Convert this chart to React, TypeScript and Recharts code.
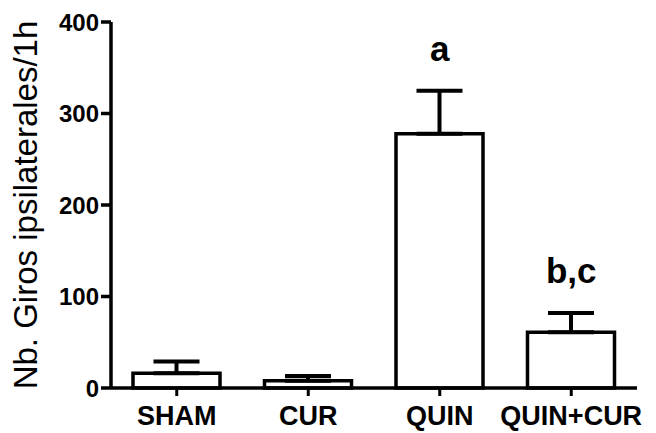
import React from 'react';
import { BarChart, Bar, XAxis, YAxis, ErrorBar, ReferenceDot } from 'recharts';

const categories = ['SHAM', 'CUR', 'QUIN', 'QUIN+CUR'];
const means = [16, 8, 278, 61];
const sems = [13, 5, 47, 21];
const yTicks = [0, 100, 200, 300, 400];
const annotations = [
  { name: 'QUIN', text: 'a' },
  { name: 'QUIN+CUR', text: 'b,c' },
];

const data = categories.map((c, i) => ({ name: c, mean: means[i], err: [0, sems[i]] }));
const FONT = '"Liberation Sans", Arial, sans-serif';

const YLabel = (props: any) => {
  const vb = props.viewBox || { x: 0, y: 0, width: 0, height: 0 };
  const x = vb.x + 37;
  const y = vb.y + vb.height / 2;
  return (
    <text
      x={x}
      y={y}
      transform={`rotate(-90 ${x} ${y})`}
      textAnchor="middle"
      fontFamily={FONT}
      fontSize={33}
      fill="#000"
    >
      Nb. Giros ipsilaterales/1h
    </text>
  );
};

export default function App() {
  return (
    <div style={{ position: 'absolute', left: 0, top: 0, background: '#fff' }}>
      <BarChart
        width={656}
        height={433}
        data={data}
        margin={{ top: 22, right: 19, bottom: 0, left: 0 }}
      >
        <XAxis
          dataKey="name"
          height={45}
          tickSize={8}
          tickMargin={10}
          axisLine={{ stroke: '#000', strokeWidth: 3.5 }}
          tickLine={{ stroke: '#000', strokeWidth: 3 }}
          tick={{ fill: '#000', fontFamily: FONT, fontSize: 27, fontWeight: 'bold' }}
        />
        <YAxis
          width={111}
          domain={[0, 400]}
          ticks={yTicks}
          tickSize={10}
          tickMargin={2}
          interval={0}
          axisLine={{ stroke: '#000', strokeWidth: 3.5 }}
          tickLine={{ stroke: '#000', strokeWidth: 3.5 }}
          tick={{ fill: '#000', fontFamily: FONT, fontSize: 24, fontWeight: 'bold' }}
          label={{ content: YLabel }}
        />
        <Bar
          dataKey="mean"
          fill="#fff"
          stroke="#000"
          strokeWidth={3.5}
          barSize={87}
          isAnimationActive={false}
        >
          <ErrorBar dataKey="err" width={23} stroke="#000" strokeWidth={4} direction="y" />
        </Bar>
        {annotations.map((a) => (
          <ReferenceDot
            key={a.name}
            x={a.name}
            y={means[categories.indexOf(a.name)] + sems[categories.indexOf(a.name)]}
            r={0}
            fill="none"
            stroke="none"
            label={{
              value: a.text,
              position: 'top',
              offset: 30,
              fill: '#000',
              fontFamily: FONT,
              fontSize: 35,
              fontWeight: 'bold',
            }}
          />
        ))}
      </BarChart>
    </div>
  );
}
